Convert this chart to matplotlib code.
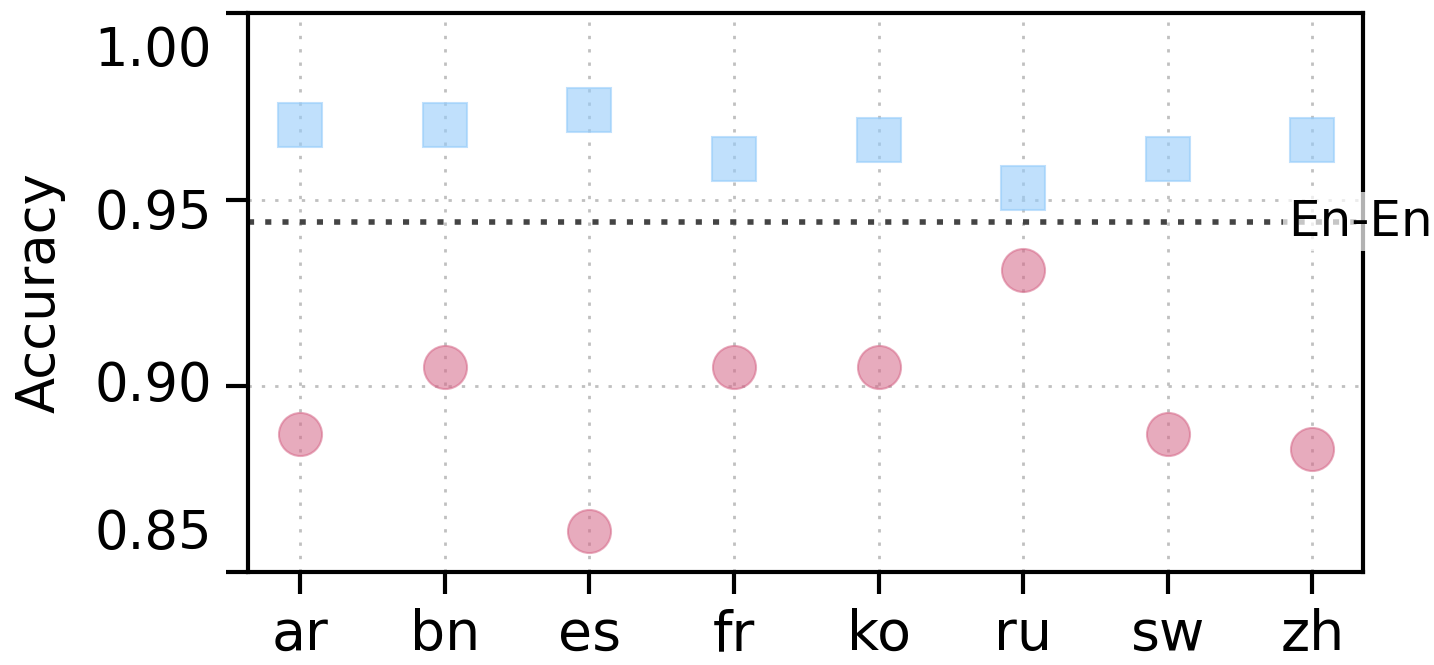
import numpy as np
import matplotlib
matplotlib.use("Agg")
import matplotlib.pyplot as plt
import matplotlib.transforms as mtransforms

# --- Data ---
languages = ["ar", "bn", "es", "fr", "ko", "ru", "sw", "zh"]
acc_square = [0.970, 0.970, 0.974, 0.961, 0.966, 0.953, 0.961, 0.966]   # blue squares
acc_circle = [0.887, 0.905, 0.861, 0.905, 0.905, 0.931, 0.887, 0.883]   # pink circles
en_en = 0.944                                                           # En-En reference
yticks = [0.85, 0.90, 0.95, 1.00]
ytick_labels = ["0.85", "0.90", "0.95", "1.00"]
ytick_label_y = [0.8602, 0.90, 0.946, 0.990]   # where the labels sit in the picture

x = np.arange(len(languages))

fig = plt.figure(figsize=(14.34, 6.65), dpi=100)
ax = fig.add_axes([0.173, 0.140, 0.7775, 0.840])

grid_style = dict(color="#c0c0c0", linewidth=2, linestyle=(0, (1.2, 3.6)), zorder=0)
for xi in x:
    ax.axvline(xi, **grid_style)
for yv in yticks:
    ax.axhline(yv, **grid_style)

ax.axhline(en_en, color="#444444", linewidth=4, linestyle=(0, (1.1, 2.0)), zorder=1)

ax.plot(x, acc_square, "s", markersize=31, color="#96ccfa", alpha=0.6,
        markeredgecolor="#96ccfa", markeredgewidth=1.5, zorder=3)
ax.plot(x, acc_circle, "o", markersize=31, color="#d56687", alpha=0.55,
        markeredgecolor="#d56687", markeredgewidth=1.5, zorder=3)

ax.set_xlim(-0.36, 7.35)
ax.set_ylim(0.85, 1.00)

ax.set_xticks(x)
ax.set_xticklabels(languages, fontsize=40)
ax.set_yticks(yticks)
ax.set_yticklabels([])

ytrans = ax.get_yaxis_transform()
offset = mtransforms.ScaledTranslation(-0.36, 0, fig.dpi_scale_trans)
for lab, yl in zip(ytick_labels, ytick_label_y):
    ax.text(0, yl, lab, transform=ytrans + offset, ha="right", va="center",
            fontsize=38, clip_on=False)

ax.tick_params(axis="both", length=16, width=3, direction="out")
ax.tick_params(axis="x", pad=10)
for sp in ax.spines.values():
    sp.set_linewidth(3)

ax.set_ylabel("Accuracy", fontsize=38, labelpad=112)

ax.text(0.933, en_en, "En-En", transform=ax.get_yaxis_transform(),
        ha="left", va="center", fontsize=36, zorder=10, clip_on=False,
        bbox=dict(facecolor="white", edgecolor="none", alpha=0.7, pad=4))

fig.savefig("out.png", dpi=100)
